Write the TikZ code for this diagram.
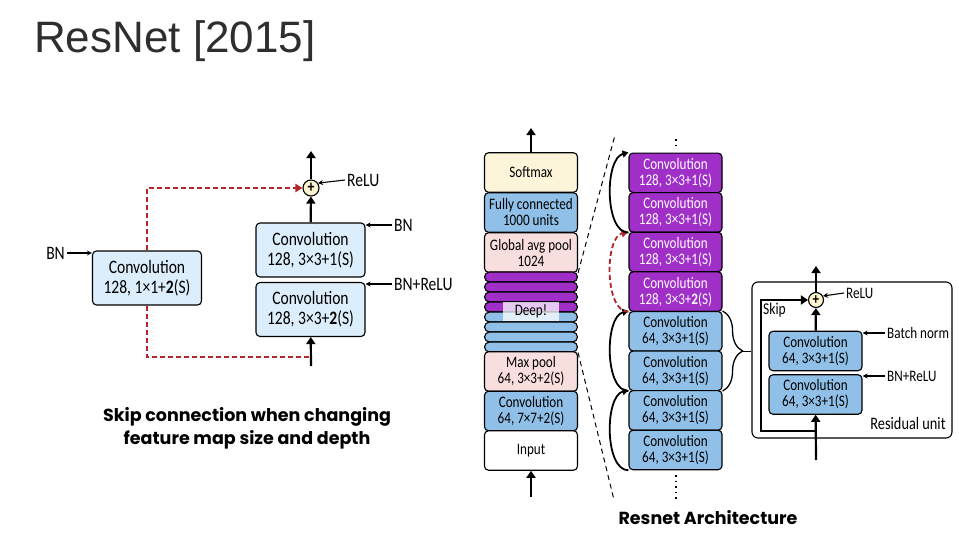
\documentclass[tikz,border=0pt]{standalone}
\usepackage{fontspec}
\setmainfont{Carlito}[FakeStretch=0.82]
\newfontfamily\titlefont{Liberation Sans}
\newfontfamily\capfont{Poppins}
\usepackage{xcolor}
\usetikzlibrary{shapes, arrows.meta, positioning, calc, decorations.pathreplacing}

\definecolor{lightblue}{HTML}{DCEEFB}
\definecolor{midblue}{HTML}{90C0E8}
\definecolor{convpurple}{HTML}{A02FC8}
\definecolor{softpink}{HTML}{F9DEDE}
\definecolor{softyellow}{HTML}{FDF5DA}
\definecolor{plusyellow}{HTML}{FCF3CF}
\definecolor{skipred}{HTML}{B3262B}
\definecolor{titlegray}{HTML}{2E2E2E}

\begin{document}
\begin{tikzpicture}[x=1pt, y=-1pt,
    block/.style={rectangle, draw, rounded corners=4pt, line width=1.1pt, minimum width=93pt, minimum height=39.5pt, inner sep=0pt, align=center, font=\fontsize{16}{16}\selectfont},
    bigblock/.style={block, fill=lightblue, minimum width=109pt, minimum height=54pt, font=\fontsize{19}{19}\selectfont},
    purpleblock/.style={block, fill=convpurple, text=white},
    blueblock/.style={block, fill=midblue},
    stripe/.style={rectangle, draw, rounded corners=5pt, line width=1.1pt, minimum width=93pt, minimum height=10pt, inner sep=0pt},
    deeplabel/.style={rectangle, fill=white, fill opacity=0.75, text opacity=1, minimum width=56pt, minimum height=19pt, inner sep=0pt, font=\fontsize{16}{16}\selectfont},
    plus/.style={circle, draw, line width=1.1pt, fill=plusyellow, minimum size=16pt, inner sep=0pt, font=\bfseries\fontsize{17}{17}\selectfont},
    lbl/.style={inner sep=0pt, font=\fontsize{19}{19}\selectfont},
    smalllbl/.style={inner sep=0pt, font=\fontsize{16}{16}\selectfont},
    flow/.style={line width=2.2pt, -{Triangle[length=7pt, width=9pt]}},
    note/.style={line width=1.1pt, -{Stealth[length=5pt, width=5pt]}},
    skip/.style={line width=2pt, skipred, dash pattern=on 5pt off 3pt, -{Triangle[length=7pt, width=8pt]}},
    skipline/.style={line width=2pt, skipred, dash pattern=on 5pt off 3pt},
    zoomline/.style={line width=1pt, dash pattern=on 5pt off 4pt},
    dots/.style={line width=1.6pt, dash pattern=on 1.6pt off 4pt},
    arc/.style={line width=1.8pt, -{Triangle[length=6pt, width=7pt]}},
    caption/.style={inner sep=0pt, align=center, font=\capfont\bfseries\fontsize{17.5}{23}\selectfont},
  ]
    \fill[white] (0,0) rectangle (959,541);
    \useasboundingbox (0,0) rectangle (959,541);

    % Title
    \node[anchor=base west, inner sep=0pt, text=titlegray, font=\titlefont\fontsize{44}{44}\selectfont] (title) at (34,52) {ResNet [2015]};

    % Skip connection with changing size
    \node[bigblock] (sconv) at (147,278) {Convolution\\[1pt]128, 1×1+\textbf{2}(S)};
    \node[bigblock] (conv2) at (310.5,250) {Convolution\\[1pt]128, 3×3+1(S)};
    \node[bigblock] (conv1) at (310.5,309.5) {Convolution\\[1pt]128, 3×3+\textbf{2}(S)};
    \node[plus] (add) at (311,188) {+};
    \coordinate (lin) at (311,366);
    \coordinate (lmeet) at (311,357);
    \coordinate (lout) at (311,151);
    \draw[flow] (lin) -- (conv1);
    \draw[flow] (conv2) -- (add);
    \draw[flow] (add) -- (lout);
    \draw[skip] (sconv.north) |- (add.west);
    \draw[skipline] (sconv.south) |- (lmeet);

    \node[lbl, anchor=east] (bnl) at (65,253) {BN};
    \node[lbl, anchor=west] (relul) at (347,180) {ReLU};
    \node[lbl, anchor=west] (bnr) at (394,225) {BN};
    \node[lbl, anchor=west] (bnrelul) at (394,284) {BN+ReLU};
    \draw[note] (bnl.east) ++(2,0) coordinate (bnls) -- (bnls -| sconv.west);
    \draw[note] (relul.west) ++(-2,0) coordinate (reluls) -- (add.35);
    \draw[note] (bnr.west) ++(-2,0) coordinate (bnrs) -- (bnrs -| conv2.east);
    \draw[note] (bnrelul.west) ++(-2,0) coordinate (bnrelus) -- (bnrelus -| conv1.east);

    \node[caption] (leftcap) at (247,428) {Skip connection when changing\\feature map size and depth};

    % Whole network
    \node[block, fill=softyellow] (softmax) at (531,172.5) {Softmax};
    \node[blueblock] (fc) at (531,212.5) {Fully connected\\1000 units};
    \node[block, fill=softpink] (gap) at (531,252.5) {Global avg pool\\1024};
    \foreach \i in {0,...,3}
      \node[stripe, fill=convpurple] (p\i) at (531,277+10*\i) {};
    \foreach \i in {0,...,3}
      \node[stripe, fill=midblue] (b\i) at (531,317+10*\i) {};
    \node[deeplabel] (deep) at (531,311.5) {Deep!};
    \node[block, fill=softpink] (maxpool) at (531,371.5) {Max pool\\64, 3×3+2(S)};
    \node[blueblock] (conv7) at (531,411) {Convolution\\64, 7×7+2(S)};
    \node[block, fill=white] (input) at (531,450.5) {Input};
    \coordinate (min) at (531,497);
    \coordinate (mout) at (531,128);
    \draw[flow] (min) -- (input);
    \draw[flow] (softmax) -- (mout);

    % Zoomed stack
    \node[purpleblock] (r1) at (675.5,172.8) {Convolution\\128, 3×3+1(S)};
    \node[purpleblock] (r2) at (675.5,212.4) {Convolution\\128, 3×3+1(S)};
    \node[purpleblock] (r3) at (675.5,252.0) {Convolution\\128, 3×3+1(S)};
    \node[purpleblock] (r4) at (675.5,291.6) {Convolution\\128, 3×3+\textbf{2}(S)};
    \node[blueblock] (r5) at (675.5,331.2) {Convolution\\64, 3×3+1(S)};
    \node[blueblock] (r6) at (675.5,370.8) {Convolution\\64, 3×3+1(S)};
    \node[blueblock] (r7) at (675.5,410.4) {Convolution\\64, 3×3+1(S)};
    \node[blueblock] (r8) at (675.5,450.0) {Convolution\\64, 3×3+1(S)};

    \coordinate (zt) at (615,135);
    \coordinate (zb) at (614,500);
    \draw[zoomline] (gap.south east) -- (zt);
    \draw[zoomline] (b3.south east) -- (zb);

    \coordinate (dta) at (676,139);
    \coordinate (dtb) at (676,150);
    \coordinate (dba) at (676,475);
    \coordinate (dbb) at (676,499);
    \draw[dots] (dta) -- (dtb);
    \draw[dots] (dba) -- (dbb);

    \draw[arc] (r8.south west) .. controls +(-24,0) and +(-24,6) .. (r7.north west);
    \draw[arc] (r6.south west) .. controls +(-24,0) and +(-24,6) .. (r5.north west);
    \draw[skip, line width=1.8pt] (r4.south west) .. controls +(-24,0) and +(-24,6) .. (r3.north west);
    \draw[arc] (r2.south west) .. controls +(-24,0) and +(-24,6) .. (r1.north west);

    \draw[line width=1.3pt, decorate, decoration={brace, amplitude=20pt}] (r5.north east) -- (r6.south east);

    % Residual unit
    \node[rectangle, draw, rounded corners=6pt, line width=1.1pt, minimum width=200pt, minimum height=156pt] (unit) at (852,360) {};
    \draw[line width=1.3pt] (742,351.5) coordinate (brtip) -- (brtip -| unit.west);
    \node[blueblock] (uc2) at (815.5,351) {Convolution\\64, 3×3+1(S)};
    \node[blueblock] (uc1) at (815.5,394.5) {Convolution\\64, 3×3+1(S)};
    \node[plus, minimum size=15pt, font=\bfseries\fontsize{16}{16}\selectfont] (uadd) at (816,300) {+};
    \coordinate (uin) at (816,460);
    \coordinate (uout) at (816,266);
    \coordinate (usplit) at (816,431);
    \coordinate (ucorner) at (761,431);
    \draw[flow] (uin) -- (uc1);
    \draw[flow] (uc2) -- (uadd);
    \draw[flow] (uadd) -- (uout);
    \draw[flow, line width=1.8pt] (usplit) -- (ucorner) |- (uadd.west);

    \node[smalllbl, font=\fontsize{16.5}{16.5}\selectfont] (skiplbl) at (774.5,310) {Skip};
    \node[smalllbl, anchor=west] (urelu) at (846,293) {ReLU};
    \node[smalllbl, anchor=west] (ubn) at (887,333) {Batch norm};
    \node[smalllbl, anchor=west] (ubnrelu) at (887,376) {BN+ReLU};
    \node[smalllbl, font=\fontsize{17.5}{17.5}\selectfont] (unitlbl) at (908,423) {Residual unit};
    \draw[note] (urelu.west) ++(-2,0) coordinate (urelus) -- (uadd.30);
    \draw[note] (ubn.west) ++(-2,0) coordinate (ubns) -- (ubns -| uc2.east);
    \draw[note] (ubnrelu.west) ++(-2,0) coordinate (ubnrelus) -- (ubnrelus -| uc1.east);

    \node[caption] (rightcap) at (708,518) {Resnet Architecture};

  \end{tikzpicture}
\end{document}
